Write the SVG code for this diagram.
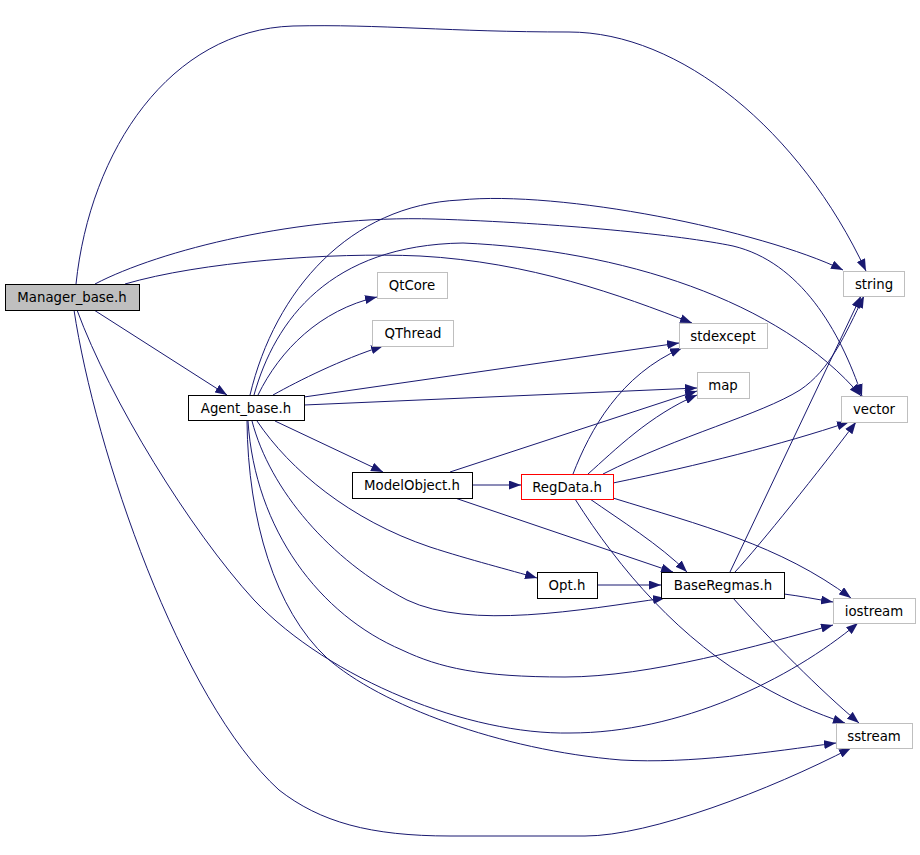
<svg xmlns="http://www.w3.org/2000/svg" width="920" height="855" viewBox="0 0 920 855">
<style>
.e{fill:none;stroke:#191970;stroke-width:1;marker-end:url(#a)}
.n rect{fill:#ffffff;stroke:#000000;stroke-width:1}
.g rect{stroke:#bfbfbf}
.r rect{stroke:#ff0000}
.m rect{fill:#bfbfbf}
text{font-family:"DejaVu Sans",Verdana,sans-serif;font-size:13.3px;fill:#000000;text-anchor:middle}
</style>
<defs>
<marker id="a" markerUnits="userSpaceOnUse" markerWidth="12" markerHeight="9" viewBox="0 0 12 9" refX="12" refY="4.5" orient="auto">
<path d="M0,0 L12,4.5 L0,9 z" fill="#191970"/>
</marker>
</defs>
<rect width="920" height="855" fill="#ffffff"/>
<g id="edges">
<path class="e" d="M76,284 C90,150 170,30 293,26 C380,24 450,32 569,32 C680,32 800,130 866,271"/>
<path class="e" d="M95,284 C160,250 300,215 434,219 C560,223 680,235 733,246 C800,262 840,330 862,396"/>
<path class="e" d="M125,284 C200,262 330,252 420,256 C530,262 620,295 692,323"/>
<path class="e" d="M94,310 L227,395"/>
<path class="e" d="M77,310 C110,400 190,530 254,600 C330,680 470,735 570,733 C680,733 790,680 858,623"/>
<path class="e" d="M74,310 C95,450 180,700 279,790 C320,822 370,836 450,836 L585,836 C650,836 770,790 851,748"/>
<path class="e" d="M258,395 C280,350 320,310 377,297"/>
<path class="e" d="M273,395 C300,380 340,360 383,346"/>
<path class="e" d="M250,395 C275,290 350,205 460,200 C560,190 760,230 843,270"/>
<path class="e" d="M254,395 C275,320 330,245 463,243 C620,250 780,300 861,396"/>
<path class="e" d="M304,397 L679,343"/>
<path class="e" d="M304,405 L697,388"/>
<path class="e" d="M275,421 L383,472"/>
<path class="e" d="M257,421 C290,470 350,520 430,547 C470,560 510,570 537,578"/>
<path class="e" d="M252,421 C270,490 330,560 407,600 C470,630 580,610 665,598"/>
<path class="e" d="M248,421 C255,530 320,615 402,650 C440,668 480,677 565,677 C650,677 760,645 833,625"/>
<path class="e" d="M247,421 C248,520 275,610 327,658 C380,705 500,750 621,760 C690,764 770,752 836,743"/>
<path class="e" d="M472,485 L521,485"/>
<path class="e" d="M450,472 L697,391"/>
<path class="e" d="M455,498 L673,572"/>
<path class="e" d="M573,474 C590,430 620,375 682,348"/>
<path class="e" d="M588,474 C615,450 650,415 697,395"/>
<path class="e" d="M603,474 C680,435 760,415 800,390 C830,370 845,335 864,296"/>
<path class="e" d="M613,483 C700,465 780,445 849,422"/>
<path class="e" d="M590,499 C620,520 660,545 687,572"/>
<path class="e" d="M613,498 C700,525 780,545 851,598"/>
<path class="e" d="M575,499 C620,570 680,640 760,685 C790,702 815,713 845,723"/>
<path class="e" d="M597,585 L661,585"/>
<path class="e" d="M730,572 L861,296"/>
<path class="e" d="M735,572 C760,545 820,470 856,422"/>
<path class="e" d="M784,594 C800,596 815,599 833,602"/>
<path class="e" d="M733,598 C770,640 820,690 859,723"/>
</g>
<g id="Manager_base.h" class="n m"><rect x="5.5" y="284.5" width="134" height="26"/><text x="72" y="302">Manager_base.h</text></g>
<g id="Agent_base.h" class="n"><rect x="188.5" y="395.5" width="116" height="25"/><text x="246" y="412.5">Agent_base.h</text></g>
<g id="QtCore" class="n g"><rect x="377.5" y="272.5" width="70" height="26"/><text x="412" y="290">QtCore</text></g>
<g id="QThread" class="n g"><rect x="372.5" y="320.5" width="81" height="26"/><text x="413" y="338">QThread</text></g>
<g id="stdexcept" class="n g"><rect x="679.5" y="323.5" width="88" height="25"/><text x="723" y="340.5">stdexcept</text></g>
<g id="map" class="n g"><rect x="697.5" y="372.5" width="52" height="26"/><text x="723" y="390">map</text></g>
<g id="ModelObject.h" class="n"><rect x="352.5" y="472.5" width="120" height="26"/><text x="412" y="490">ModelObject.h</text></g>
<g id="RegData.h" class="n r"><rect x="521.5" y="474.5" width="92" height="25"/><text x="567" y="491.5">RegData.h</text></g>
<g id="Opt.h" class="n"><rect x="537.5" y="572.5" width="60" height="26"/><text x="567" y="590">Opt.h</text></g>
<g id="BaseRegmas.h" class="n"><rect x="661.5" y="572.5" width="123" height="26"/><text x="723" y="590">BaseRegmas.h</text></g>
<g id="string" class="n g"><rect x="843.5" y="271.5" width="61" height="25"/><text x="874" y="288.5">string</text></g>
<g id="vector" class="n g"><rect x="841.5" y="396.5" width="66" height="26"/><text x="874" y="414">vector</text></g>
<g id="iostream" class="n g"><rect x="833.5" y="598.5" width="82" height="25"/><text x="874" y="615.5">iostream</text></g>
<g id="sstream" class="n g"><rect x="836.5" y="723.5" width="76" height="25"/><text x="874" y="740.5">sstream</text></g>
</svg>
